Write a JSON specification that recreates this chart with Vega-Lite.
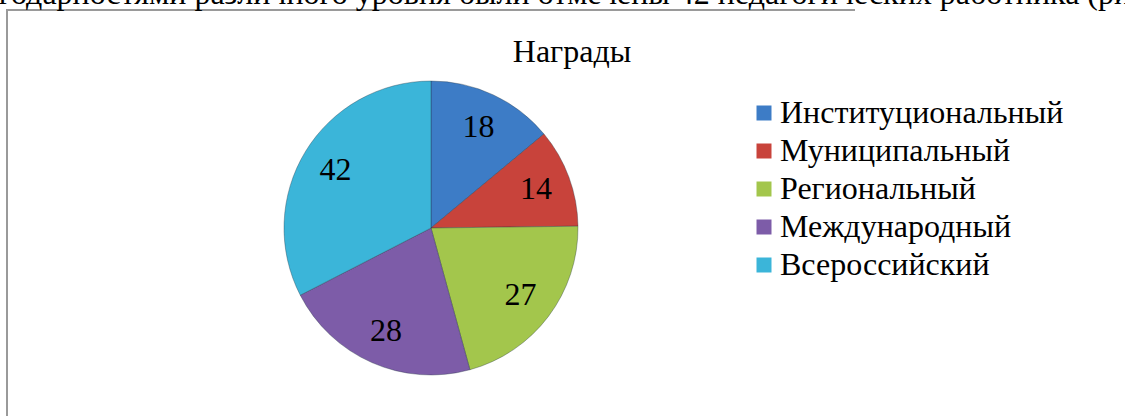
{
  "$schema": "https://vega.github.io/schema/vega-lite/v6.json",
  "autosize": "none",
  "padding": {"left": 7, "top": 10, "right": 270, "bottom": -30},
  "width": 848,
  "height": 436,
  "background": "white",
  "view": {"stroke": "#9a9a9a", "strokeWidth": 2, "strokeDash": [848, 1284, 436]},
  "title": {
    "text": "годарностями различного уровня были отмечены 42 педагогических работника (рис",
    "subtitle": "Награды",
    "anchor": "middle",
    "dx": 141,
    "offset": -59,
    "font": "Liberation Serif",
    "fontSize": 32,
    "fontWeight": "normal",
    "color": "#000000",
    "subtitleFont": "Liberation Serif",
    "subtitleFontSize": 32,
    "subtitleColor": "#000000",
    "subtitlePadding": 26
  },
  "data": {
    "values": [
      {"n": 1, "level": "Институциональный", "count": 18},
      {"n": 2, "level": "Муниципальный", "count": 14},
      {"n": 3, "level": "Региональный", "count": 27},
      {"n": 4, "level": "Международный", "count": 28},
      {"n": 5, "level": "Всероссийский", "count": 42}
    ]
  },
  "encoding": {
    "theta": {"field": "count", "type": "quantitative", "stack": true},
    "order": {"field": "n", "type": "quantitative"},
    "color": {
      "field": "level",
      "type": "nominal",
      "sort": null,
      "scale": {
        "domain": ["Институциональный", "Муниципальный", "Региональный", "Международный", "Всероссийский"],
        "range": ["#3d7cc6", "#c8433b", "#a3c64c", "#7d5ca8", "#3bb5d9"]
      },
      "legend": {
        "title": null,
        "orient": "none",
        "legendX": 741,
        "legendY": 87,
        "symbolType": "square",
        "symbolSize": 225,
        "symbolStrokeWidth": 0,
        "labelFont": "Liberation Serif",
        "labelFontSize": 32,
        "labelColor": "#000000",
        "labelOffset": 0,
        "rowPadding": 6,
        "labelLimit": 400,
        "padding": 0
      }
    }
  },
  "layer": [
    {
      "mark": {"type": "arc", "outerRadius": 147, "stroke": "#1f3040", "strokeOpacity": 0.35, "strokeWidth": 1}
    },
    {
      "mark": {"type": "text", "radius": 112, "font": "Liberation Serif", "fontSize": 32, "color": "#000000"},
      "encoding": {
        "text": {"field": "count", "type": "quantitative"},
        "color": {"value": "#000000"}
      }
    }
  ]
}
